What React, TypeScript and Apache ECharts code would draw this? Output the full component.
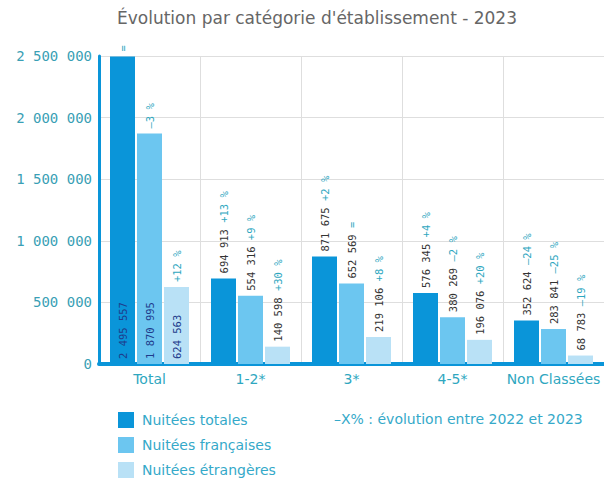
import React, { useEffect, useRef } from "react";
import * as echarts from "echarts";

const categories = ["Total", "1-2*", "3*", "4-5*", "Non Classées"];
const seriesNames = ["Nuitées totales", "Nuitées françaises", "Nuitées étrangères"];
const totales = [2495557, 694913, 871675, 576345, 352624];
const francaises = [1870995, 554316, 652569, 380269, 283841];
const etrangeres = [624563, 140598, 219106, 196076, 68783];
const pctTotales = ["=", "+13 %", "+2 %", "+4 %", "–24 %"];
const pctFrancaises = ["–3 %", "+9 %", "=", "–2 %", "–25 %"];
const pctEtrangeres = ["+12 %", "+30 %", "+8 %", "+20 %", "–19 %"];
const yTicks = [0, 500000, 1000000, 1500000, 2000000, 2500000];

const colors = ["#0a95d9", "#6cc6f0", "#b9e1f6"];
const TEAL = "#2fa7bf";
const LEG = "#35a9c9";
const MONO = "'DejaVu Sans Mono', monospace";
const SANS = "'DejaVu Sans', sans-serif";
const LBL_SIZE = 10.5;

const fmt = (v: number) => String(v).replace(/\B(?=(\d{3})+(?!\d))/g, " ");

const vLabel = {
  show: true,
  rotate: 90,
  align: "left",
  verticalAlign: "middle",
  distance: 5,
  fontFamily: MONO,
  fontSize: LBL_SIZE,
  rich: {
    v: { color: "#333", fontFamily: MONO, fontSize: LBL_SIZE },
    p: { color: TEAL, fontFamily: MONO, fontSize: LBL_SIZE },
  },
};

function buildSeries(name: string, values: number[], pcts: string[], color: string, stack: string) {
  const main = {
    name,
    type: "bar",
    stack,
    barWidth: 25,
    barGap: "8%",
    itemStyle: { color },
    label: vLabel,
    data: values.map((v, i) =>
      i === 0
        ? {
            value: v,
            label: {
              show: true,
              position: "insideBottom",
              rotate: 90,
              align: "left",
              verticalAlign: "middle",
              distance: 5,
              color: "#1e3c8c",
              fontFamily: MONO,
              fontSize: LBL_SIZE,
              formatter: fmt(v),
            },
          }
        : {
            value: v,
            label: {
              ...vLabel,
              position: "top",
              formatter: `{v|${fmt(v)}} {p|${pcts[i]}}`,
            },
          }
    ),
  };
  const helper = {
    name: name + " (évolution)",
    type: "bar",
    stack,
    barWidth: 25,
    barGap: "8%",
    itemStyle: { color: "transparent" },
    data: values.map((_, i) =>
      i === 0
        ? {
            value: 0,
            label: {
              show: true,
              position: "top",
              rotate: 90,
              align: "left",
              verticalAlign: "middle",
              distance: 5,
              color: TEAL,
              fontFamily: MONO,
              fontSize: LBL_SIZE,
              formatter: pcts[i],
            },
          }
        : { value: 0, label: { show: false } }
    ),
  };
  return [main, helper];
}

export default function App() {
  const ref = useRef<HTMLDivElement>(null);
  useEffect(() => {
    document.body.style.margin = "0";
    document.body.style.overflow = "hidden";
    if (!ref.current) return;
    const chart = echarts.init(ref.current, null, { renderer: "svg" });
    const legendItem = (name: string, top: number) => ({
      data: [name],
      orient: "vertical",
      left: 118,
      top,
      icon: "rect",
      itemWidth: 16,
      itemHeight: 16,
      itemGap: 8,
      padding: 0,
      textStyle: { color: LEG, fontSize: 14, fontFamily: SANS, padding: [0, 0, 0, 3] },
    });
    chart.setOption({
      animation: false,
      backgroundColor: "#ffffff",
      title: {
        text: "Évolution par catégorie d'établissement - 2023",
        left: 117,
        top: 9,
        padding: 0,
        textStyle: { color: "#666", fontSize: 17, fontWeight: "normal", fontFamily: SANS },
      },
      legend: [
        legendItem(seriesNames[0], 412),
        legendItem(seriesNames[1], 437),
        legendItem(seriesNames[2], 462),
      ],
      graphic: [
        {
          type: "text",
          left: 334,
          top: 412,
          style: {
            text: "–X% : évolution entre 2022 et 2023",
            fill: LEG,
            fontSize: 14,
            fontFamily: SANS,
          },
        },
      ],
      grid: { left: 99, right: 0, top: 56, bottom: 114, containLabel: false },
      xAxis: {
        type: "category",
        data: categories,
        axisLine: { show: true, lineStyle: { color: colors[0], width: 4 } },
        axisTick: { show: false },
        splitLine: { show: true, lineStyle: { color: "#dedede", width: 1 } },
        axisLabel: { color: TEAL, fontSize: 14, fontFamily: SANS, margin: 8, interval: 0 },
      },
      yAxis: {
        type: "value",
        min: yTicks[0],
        max: yTicks[yTicks.length - 1],
        interval: yTicks[1] - yTicks[0],
        axisLine: { show: true, lineStyle: { color: colors[0], width: 3 } },
        axisTick: { show: false },
        splitLine: { show: true, lineStyle: { color: "#dedede", width: 1 } },
        axisLabel: {
          color: "#3a9fb5",
          fontSize: 14,
          fontFamily: MONO,
          margin: 7,
          formatter: (v: number) => fmt(v),
        },
      },
      series: [
        ...buildSeries(seriesNames[0], totales, pctTotales, colors[0], "s1"),
        ...buildSeries(seriesNames[1], francaises, pctFrancaises, colors[1], "s2"),
        ...buildSeries(seriesNames[2], etrangeres, pctEtrangeres, colors[2], "s3"),
      ],
    });
    return () => chart.dispose();
  }, []);
  return <div ref={ref} style={{ width: 604, height: 478 }} />;
}
